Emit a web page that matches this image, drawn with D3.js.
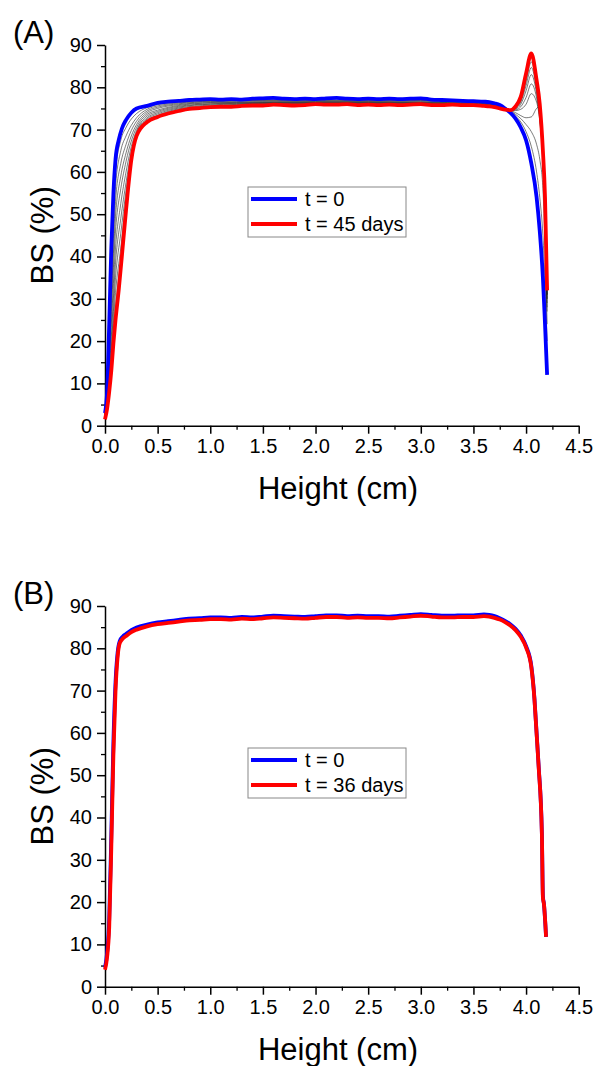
<!DOCTYPE html>
<html>
<head>
<meta charset="utf-8">
<script src="https://cdn.jsdelivr.net/npm/d3@7"></script>
<style>
  html, body { margin: 0; padding: 0; background: #fff; }
  svg { display: block; }
  text { font-family: "Liberation Sans", Arial, sans-serif; fill: #000; }
</style>
</head>
<body>
<svg id="chart" width="594" height="1066"></svg>
<script>
// ---------- Data ----------
const xTicks = [0, 0.5, 1.0, 1.5, 2.0, 2.5, 3.0, 3.5, 4.0, 4.5];
const yTicks = [0, 10, 20, 30, 40, 50, 60, 70, 80, 90];

// Panel A : blue (t = 0) and red (t = 45 days)
const heightA = [0,0.02,0.04,0.06,0.08,0.10,0.13,0.16,0.20,0.25,0.30,0.40,0.50,0.60,0.70,0.80,0.90,1.00,1.10,1.20,1.30,1.40,1.50,1.60,1.70,1.80,1.90,2.00,2.10,2.20,2.30,2.40,2.50,2.60,2.70,2.80,2.90,3.00,3.10,3.20,3.30,3.40,3.50,3.60,3.65,3.70,3.75,3.80,3.85,3.90,3.95,4.00,4.05,4.10,4.13,4.16,4.18,4.20];
const bsA_t0 = [3,8,24,42,55,63,67.5,70.2,72.3,74.0,75.0,75.6,76.3,76.6,76.8,77.0,77.1,77.2,77.1,77.2,77.1,77.3,77.4,77.5,77.3,77.2,77.3,77.2,77.4,77.5,77.3,77.2,77.3,77.2,77.3,77.2,77.3,77.4,77.1,77.0,76.9,76.8,76.7,76.6,76.5,76.2,75.8,75.0,74.0,72.6,70.5,67.5,62.0,54.0,46,35,24,12];
const bsA_t45 = [1.5,4,8,13,19.5,25,32,40,51,62.8,68.5,71.8,73.0,73.8,74.4,74.9,75.1,75.3,75.4,75.4,75.6,75.7,75.7,75.9,75.8,75.7,75.8,76.0,75.9,75.9,76.0,75.8,75.9,75.8,75.9,75.8,75.9,76.0,75.8,75.8,75.9,75.8,75.8,75.6,75.5,75.3,75.0,74.7,74.6,75.5,77.8,83.3,88.0,81.7,76,65,54,32];

// Panel A : intermediate measurements (thin grey)
const heightGrey = [0,0.03,0.06,0.10,0.15,0.20,0.25,0.30,0.40,0.50,0.70,1.00,1.50,2.00,2.50,3.00,3.50,3.70,3.80,3.85,3.90,3.95,4.00,4.05,4.10,4.13,4.16,4.20];
const grey1  = [2.8,14.5,39,60,67.5,70.5,72.5,73.8,75.2,75.9,76.5,76.9, 77.1,77.0,77.0,77.1,76.5,76.1, 75.2,74.3,73.2,71.8,69.5,66.0,60.0,54.0,45.0,20];
const grey2  = [2.7,13.5,36,56.5,65,68.5,71,72.8,74.8,75.6,76.3,76.7, 76.9,76.9,76.9,76.9,76.4,76.0, 75.2,74.5,73.6,72.6,71.2,69.5,66.5,63.0,56.0,24];
const grey3  = [2.6,12.5,33,53,62,66.5,69.8,72,74.4,75.3,76.1,76.6, 76.8,76.7,76.7,76.8,76.3,75.9, 75.2,74.6,74.0,73.3,72.8,73.0,75.0,75.5,66.0,27];
const grey4  = [2.4,11.5,30,49.5,59,64.5,68.5,71.2,74,75,75.9,76.4, 76.6,76.6,76.6,76.6,76.2,75.8, 75.1,74.7,74.5,74.8,76.0,78.5,76.5,72.0,62.0,28];
const grey5  = [2.3,10.5,27,46,56,62.5,67.3,70.5,73.6,74.6,75.7,76.3, 76.5,76.5,76.5,76.5,76.1,75.7, 75.0,74.7,74.7,75.4,77.6,80.8,77.5,72.5,63.0,29];
const grey6  = [2.2,9.5,24,42,52.5,60,66,69.8,73.2,74.3,75.5,76.1, 76.4,76.4,76.4,76.4,76.0,75.6, 75.0,74.7,74.9,76.0,79.2,83.0,78.5,73.0,63.5,30];
const grey7  = [2.0,8.8,21,38.5,49,57.5,64.8,69.3,72.8,74,75.3,76.0, 76.3,76.3,76.3,76.3,75.9,75.5, 74.9,74.6,75.0,76.5,80.4,84.7,79.3,73.5,64.0,30];
const grey8  = [1.9,8,18.5,35,45.5,55.5,63.8,69,72.5,73.7,75.1,75.8, 76.2,76.2,76.2,76.2,75.9,75.5, 74.8,74.6,75.2,76.9,81.4,86.0,80.0,74.0,64.0,31];
const grey9  = [1.8,7.2,16.5,31.5,42,53.5,63.3,68.8,72.2,73.4,74.9,75.6, 76.1,76.1,76.1,76.1,75.8,75.4, 74.8,74.6,75.3,77.2,82.2,87.0,80.5,74.5,64.5,31];
const grey10 = [1.6,6.5,14.5,28,39.5,52,63,68.6,72,73.2,74.7,75.4, 76.0,76.0,76.0,76.0,75.8,75.4, 74.7,74.6,75.4,77.5,82.8,87.6,81.0,75.0,64.5,31];
const greySeries = [grey1, grey2, grey3, grey4, grey5, grey6, grey7, grey8, grey9, grey10];

// Panel B : blue (t = 0) and red (t = 36 days)
const heightB = [0,0.02,0.04,0.06,0.08,0.10,0.12,0.14,0.17,0.20,0.25,0.30,0.40,0.50,0.60,0.70,0.80,0.90,1.00,1.10,1.20,1.30,1.40,1.50,1.60,1.70,1.80,1.90,2.00,2.10,2.20,2.30,2.40,2.50,2.60,2.70,2.80,2.90,3.00,3.10,3.20,3.30,3.40,3.50,3.60,3.65,3.70,3.75,3.80,3.85,3.90,3.95,4.00,4.05,4.08,4.10,4.12,4.15,4.16,4.17,4.19];
const bsB_t0 = [4.5,8,16,36,58,72,79,81.7,82.8,83.4,84.3,84.9,85.6,86.1,86.4,86.7,87.0,87.1,87.3,87.3,87.2,87.4,87.3,87.5,87.7,87.6,87.5,87.4,87.6,87.8,87.8,87.6,87.7,87.6,87.6,87.5,87.7,87.9,88.1,87.9,87.7,87.7,87.8,87.8,88.0,87.9,87.6,87.1,86.5,85.7,84.6,83.0,80.5,75.8,68.0,60.0,52.0,36.5,21.5,19.5,11.8];
const bsB_t36 = [4.0,7,14,33,55,70,78,81.2,82.3,82.9,83.8,84.4,85.2,85.7,86.0,86.3,86.6,86.7,86.9,86.9,86.8,87.0,86.9,87.1,87.3,87.2,87.1,87.0,87.2,87.4,87.4,87.2,87.3,87.2,87.2,87.1,87.3,87.5,87.7,87.5,87.3,87.3,87.4,87.4,87.6,87.5,87.2,86.8,86.2,85.4,84.3,82.7,80.2,75.5,67.8,59.8,51.8,36.3,21,19.5,11.8];

const legendA = ["t = 0", "t = 45 days"];
const legendB = ["t = 0", "t = 36 days"];

// ---------- Drawing ----------
const svg = d3.select("#chart");
const BLUE = "#0000ff", RED = "#ff0000";

function panel(offsetY, label, blueX, blueY, redX, redY, legendLabels, greys) {
  const g = svg.append("g").attr("transform", `translate(0,${offsetY})`);
  const x = d3.scaleLinear().domain([0, 4.5]).range([105, 578.7]);
  const y = d3.scaleLinear().domain([0, 90]).range([425.7, 45]);

  // minor ticks
  const xMinor = d3.range(0.25, 4.5, 0.5);
  const yMinor = d3.range(5, 90, 10);
  g.append("g").attr("transform", `translate(0,${y(0)})`)
    .call(d3.axisBottom(x).tickValues(xMinor).tickSize(4).tickFormat(""))
    .call(a => a.select(".domain").remove())
    .selectAll("line").attr("stroke-width", 1.3);
  g.append("g").attr("transform", `translate(${x(0)},0)`)
    .call(d3.axisLeft(y).tickValues(yMinor).tickSize(4).tickFormat(""))
    .call(a => a.select(".domain").remove())
    .selectAll("line").attr("stroke-width", 1.3);

  // major axes
  const xa = g.append("g").attr("transform", `translate(0,${y(0)})`)
    .call(d3.axisBottom(x).tickValues(xTicks).tickSize(8).tickSizeOuter(0).tickPadding(5).tickFormat(d3.format(".1f")));
  const ya = g.append("g").attr("transform", `translate(${x(0)},0)`)
    .call(d3.axisLeft(y).tickValues(yTicks).tickSize(8).tickSizeOuter(0).tickPadding(5).tickFormat(d3.format("d")));
  [xa, ya].forEach(a => {
    a.select(".domain").attr("stroke-width", 1.5);
    a.selectAll(".tick line").attr("stroke-width", 1.5);
    a.selectAll("text").attr("font-size", 20).attr("font-family", '"Liberation Sans", Arial, sans-serif').attr("fill", "#000");
  });

  const line = (xs) => d3.line().x((d, i) => x(xs[i])).y(d => y(d)).curve(d3.curveMonotoneX);

  if (greys) {
    greys.forEach(s => {
      g.append("path").datum(s).attr("d", line(heightGrey))
        .attr("fill", "none").attr("stroke", "#222").attr("stroke-width", 0.7).attr("stroke-opacity", 0.85);
    });
  }
  g.append("path").datum(blueY).attr("d", line(blueX))
    .attr("fill", "none").attr("stroke", BLUE).attr("stroke-width", 3.8).attr("stroke-linejoin", "round");
  g.append("path").datum(redY).attr("d", line(redX))
    .attr("fill", "none").attr("stroke", RED).attr("stroke-width", 3.8).attr("stroke-linejoin", "round");

  // axis titles
  g.append("text").attr("x", 338).attr("y", 499).attr("text-anchor", "middle")
    .attr("font-size", 31).text("Height (cm)");
  g.append("text").attr("transform", `translate(53,${(y(0) + y(90)) / 2}) rotate(-90)`)
    .attr("text-anchor", "middle").attr("font-size", 31).text("BS (%)");
  g.append("text").attr("x", 13).attr("y", 43).attr("font-size", 31).text(label);

  // legend
  const lg = g.append("g");
  lg.append("rect").attr("x", 248).attr("y", 187).attr("width", 158).attr("height", 50)
    .attr("fill", "#fff").attr("stroke", "#888").attr("stroke-width", 1);
  [[BLUE, 199], [RED, 224]].forEach(([c, yy], i) => {
    lg.append("line").attr("x1", 251).attr("x2", 297).attr("y1", yy).attr("y2", yy)
      .attr("stroke", c).attr("stroke-width", 3.8);
    lg.append("text").attr("x", 305).attr("y", yy + 7).attr("font-size", 20).text(legendLabels[i]);
  });
}

panel(0, "(A)", heightA, bsA_t0, heightA, bsA_t45, legendA, greySeries);
panel(561, "(B)", heightB, bsB_t0, heightB, bsB_t36, legendB, null);
</script>
</body>
</html>
